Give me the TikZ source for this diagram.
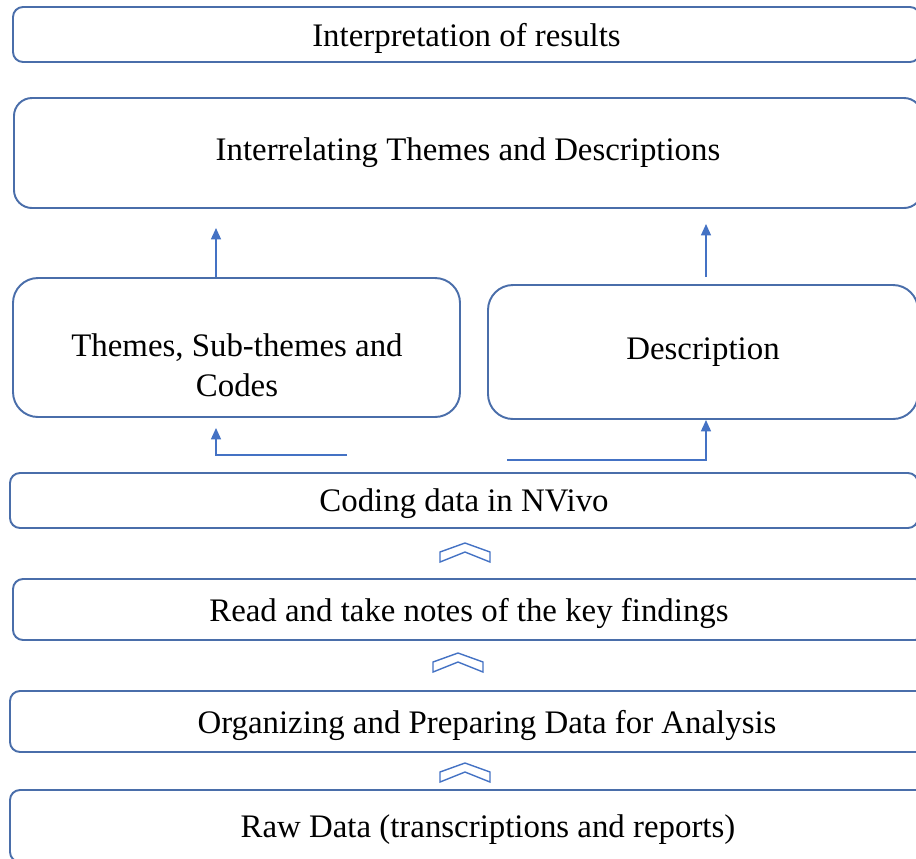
\documentclass[tikz,border=0pt]{standalone}
\usepackage{fontspec}
\setmainfont{Liberation Serif}
\usetikzlibrary{positioning,arrows.meta}
\definecolor{boxline}{RGB}{74,110,170}
\definecolor{arrline}{RGB}{68,114,196}

\begin{document}
\begin{tikzpicture}[x=0.2mm, y=-0.2mm,
    box/.style={draw=boxline, line width=1.1pt, fill=white, rounded corners=#1,
        inner sep=0pt, align=center, font=\fontsize{18.7}{22.7}\selectfont},
    box/.default=2mm,
    low/.style={text depth=0pt},
    arr/.style={draw=arrline, line width=0.85pt,
        -{Triangle[width=5.7pt,length=6.5pt]}},
    chevron/.pic={
        \draw[draw=arrline, line width=0.8pt, fill=white]
            (-25,9) -- (0,0) -- (25,9) -- (25,19) -- (0,9) -- (-25,19) -- cycle;
    }]
    \useasboundingbox (0,0) rectangle (916,858);
    \clip (0,0) rectangle (916,858);

    % boxes, top to bottom
    \node[box,low] (interp) at (466.5,34.5) [minimum width=181.4mm, minimum height=11mm]
        {Interpretation of results};
    \node[box=3.6mm] (relate) at (468,153) [minimum width=181.6mm, minimum height=22mm]
        {Interrelating Themes and Descriptions};
    \node[box=5mm] (themes) at (236.5,347.5) [minimum width=89.4mm, minimum height=27.8mm] {};
    \node[align=center, font=\fontsize{18.7}{22.7}\selectfont] (themes-txt) at (237,365)
        {Themes, Sub-themes and\\Codes};
    \node[box=5mm] (desc) at (703,352) [minimum width=86mm, minimum height=26.8mm]
        {Description};
    \node[box,low] (coding) at (464,500.5) [minimum width=181.6mm, minimum height=11mm]
        {Coding data in NVivo};
    \node[box,low] (notes) at (469,609.5) [minimum width=182.4mm, minimum height=12.2mm]
        {Read and take notes of the key findings};
    \node[box,low] (prep) at (487,721.5) [minimum width=190.8mm, minimum height=12.2mm]
        {Organizing and Preparing Data for Analysis};
    \node[box,low] (raw) at (488,826) [minimum width=191.2mm, minimum height=14.4mm]
        {Raw Data (transcriptions and reports)};

    % arrows
    \coordinate (t-tip) at (216,228);
    \coordinate (d-tip) at (706,224);
    \coordinate (l-start) at (347,455);
    \coordinate (r-start) at (507,460);
    \draw[arr] (themes.north -| t-tip) -- (t-tip);
    \draw[arr] ([yshift=1.4mm]desc.north -| d-tip) -- (d-tip);
    \draw[arr] (l-start) -| ([yshift=-2mm]themes.south -| t-tip);
    \draw[arr] (r-start) -| (desc.south -| d-tip);

    % chevrons between the lower boxes
    \path (465,543) pic {chevron};
    \path (458,653) pic {chevron};
    \path (465,763) pic {chevron};
\end{tikzpicture}
\end{document}
